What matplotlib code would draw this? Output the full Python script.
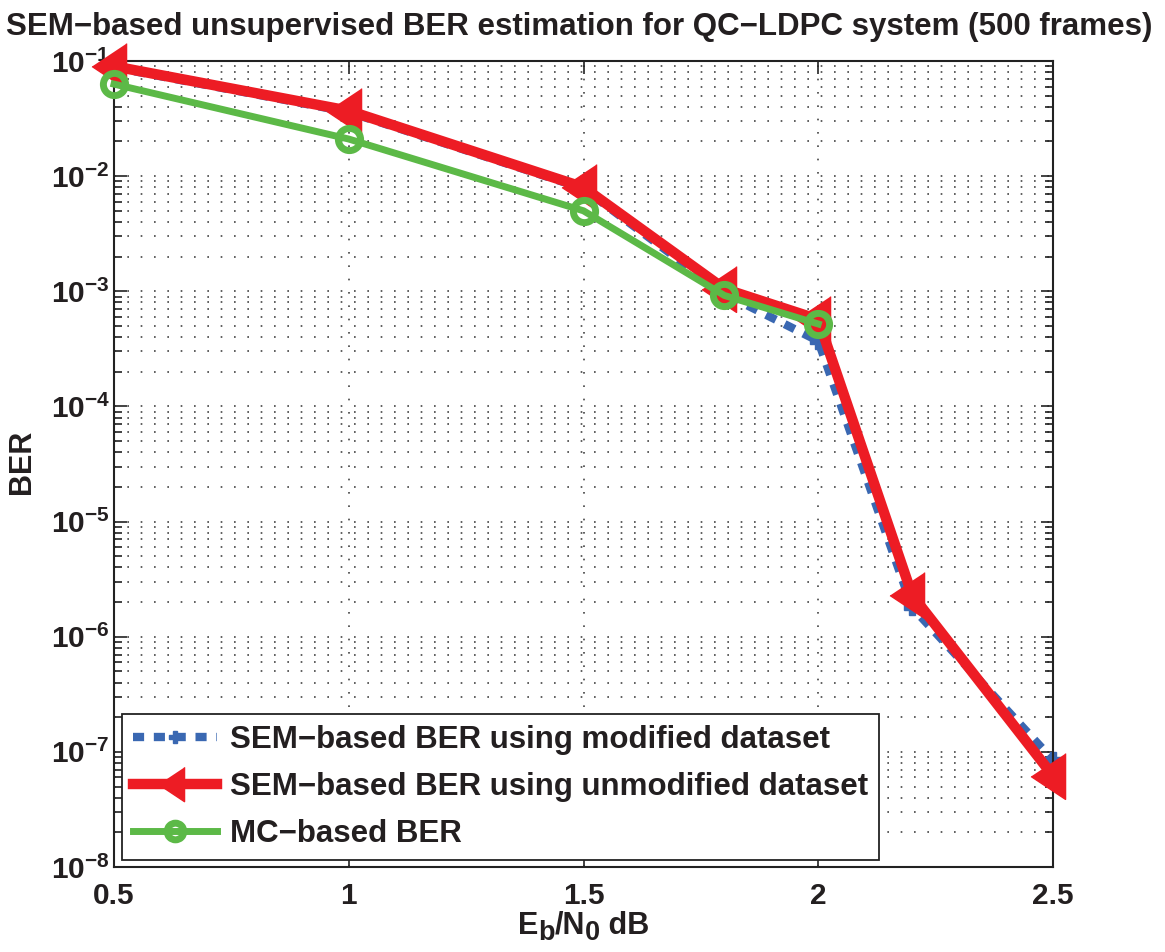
"""SEM-based unsupervised BER estimation for QC-LDPC (500 frames), MATLAB-style log plot."""

import matplotlib
matplotlib.use("Agg")
import matplotlib.pyplot as plt
from matplotlib.ticker import FixedLocator, FixedFormatter, LogLocator, NullFormatter

plt.rcParams["font.family"] = ["Liberation Sans", "DejaVu Sans"]
plt.rcParams["font.weight"] = "bold"
plt.rcParams["mathtext.fontset"] = "custom"
plt.rcParams["mathtext.rm"] = "Liberation Sans:bold"
plt.rcParams["mathtext.it"] = "Liberation Sans:bold"
plt.rcParams["mathtext.bf"] = "Liberation Sans:bold"
plt.rcParams["lines.scale_dashes"] = False

# data
ebn0 = [0.5, 1.0, 1.5, 1.8, 2.0, 2.2, 2.5]
ber_sem_modified = [0.088, 0.036, 0.0078, 9.5e-4, 3.7e-4, 1.8e-6, 8.5e-8]
ber_sem_unmodified = [0.09, 0.037, 0.008, 1.05e-3, 5.7e-4, 2.3e-6, 6.2e-8]
ebn0_mc = [0.5, 1.0, 1.5, 1.8, 2.0]
ber_mc = [0.063, 0.021, 0.005, 9.2e-4, 5.2e-4]

x_ticks = [0.5, 1.0, 1.5, 2.0, 2.5]
x_tick_labels = ["0.5", "1", "1.5", "2", "2.5"]
y_exponents = [-8, -7, -6, -5, -4, -3, -2, -1]

RED = "#ED1C24"
GREEN = "#5CB947"
BLUE = "#3A68B2"
INK = "#231F20"

W, H = 1165, 952
fig = plt.figure(figsize=(W / 100, H / 100), dpi=100)
ax = fig.add_axes([114 / W, (H - 867) / H, (1053 - 114) / W, (867 - 61) / H])

ax.set_yscale("log")
ax.set_xlim(0.5, 2.5)
ax.set_ylim(1e-8, 1e-1)

# dotted MATLAB-style grid
ax.xaxis.set_major_locator(FixedLocator(x_ticks))
ax.xaxis.set_major_formatter(FixedFormatter(x_tick_labels))
ax.yaxis.set_major_locator(FixedLocator([10.0 ** e for e in y_exponents]))
ax.yaxis.set_major_formatter(FixedFormatter([rf"$10^{{{e}}}$" for e in y_exponents]))
ax.yaxis.set_minor_locator(LogLocator(base=10, subs=range(2, 10), numticks=20))
ax.yaxis.set_minor_formatter(NullFormatter())
grid_kw = dict(color="#444444", linewidth=1.2, linestyle=(0, (1.2, 8.4)))
ax.grid(True, which="major", axis="both", **grid_kw)
ax.grid(True, which="minor", axis="y", **grid_kw)
ax.set_axisbelow(True)

ax.tick_params(which="both", direction="in", top=True, right=True, width=1.2,
               color="#222222", labelcolor=INK)
ax.tick_params(axis="x", which="major", length=9, pad=11, labelsize=21.5)
ax.tick_params(axis="y", which="major", length=9, pad=3, labelsize=21.5)
ax.tick_params(which="minor", length=6)
for s in ax.spines.values():
    s.set_linewidth(1.5)
    s.set_color("#222222")

tri = [(-1.3, 0), (0.7, -1.33), (0.7, 1.33)]
ax.plot(ebn0, ber_sem_modified, color=BLUE, lw=6, dashes=(8, 7),
        marker="P", ms=12, mec=BLUE, mfc=BLUE, clip_on=False,
        label="SEM\u2212based BER using modified dataset", zorder=2)
ax.plot(ebn0, ber_sem_unmodified, color=RED, lw=7.5, marker=tri, ms=33,
        mec=RED, mfc=RED, mew=1, clip_on=False,
        label="SEM\u2212based BER using unmodified dataset", zorder=3)
ax.plot(ebn0_mc, ber_mc, color=GREEN, lw=5, marker="o", ms=16, mew=5,
        mec=GREEN, mfc="none", clip_on=False, label="MC\u2212based BER", zorder=4)

for lab in ax.get_xticklabels() + ax.get_yticklabels():
    lab.set_fontweight("bold")

leg = ax.legend(loc="lower left", bbox_to_anchor=(8 / 939, 7 / 806),
                fontsize=22.5, frameon=True, fancybox=False, framealpha=1,
                edgecolor="#222222", borderpad=0.35, labelspacing=0.55,
                handlelength=2.7, handletextpad=0.4, borderaxespad=0,
                markerscale=0.75)
leg.get_frame().set_linewidth(1.3)
leg.set_zorder(5)
for t in leg.get_texts():
    t.set_color(INK)

fig.text(0.497, 1 - 35 / H,
         "SEM\u2212based unsupervised BER estimation for QC\u2212LDPC system (500 frames)",
         ha="center", va="baseline", fontsize=22.5, fontweight="bold", color=INK)
fig.text(22 / W, 1 - 462 / H, "BER", rotation=90, ha="center", va="center",
         fontsize=22, fontweight="bold", color=INK)

# x label with MATLAB-like large subscripts, assembled piece by piece
pieces = [("E", 0, 22), ("b", -6, 19.5), ("/N", 0, 22), ("0", -6, 19.5), (" dB", 0, 22)]
fig.canvas.draw()
renderer = fig.canvas.get_renderer()
texts = []
x_px = 0.0
for s, dy, fs in pieces:
    t = fig.text(0, 0, s, fontsize=fs, fontweight="bold", color=INK,
                 ha="left", va="baseline")
    w = t.get_window_extent(renderer).width
    texts.append((t, x_px, dy))
    x_px += w
x0 = (114 + 1053) / 2 - x_px / 2
for t, off, dy in texts:
    t.set_position(((x0 + off) / W, 1 - (934 - dy) / H))

fig.savefig("out.png", dpi=100)
